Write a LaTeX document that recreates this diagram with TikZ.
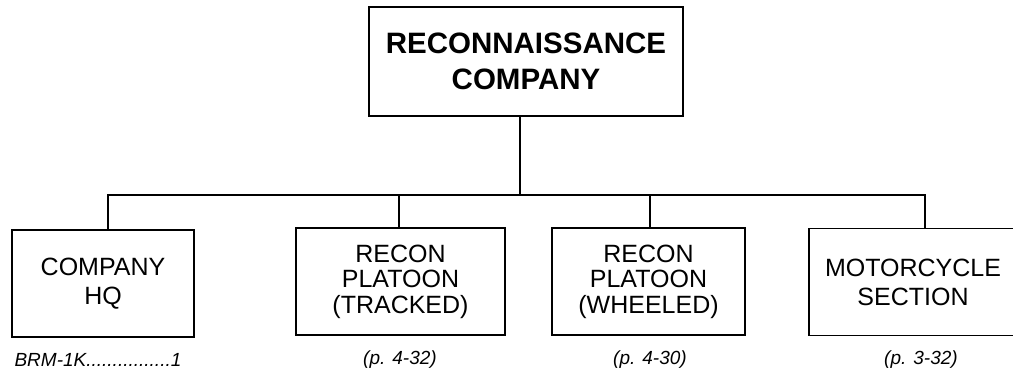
\documentclass[tikz,border=0pt]{standalone}
\usepackage{fontspec}
\setmainfont{Liberation Sans}
\usetikzlibrary{positioning}

\begin{document}
\begin{tikzpicture}[x=1pt, y=-1pt,
  unitbox/.style={draw, line width=1.6pt, align=center, inner sep=0pt,
    minimum height=107pt, font=\fontsize{25}{29}\selectfont},
  threeline/.style={font=\fontsize{25}{25.5}\selectfont},
  pageref/.style={font=\fontsize{19}{22}\selectfont\itshape},
  link/.style={line width=1.6pt}]
  \useasboundingbox (0,0) rectangle (1013,374);
  % capo
  \node[unitbox, minimum width=314pt, minimum height=109pt,
        font=\fontsize{29.5}{36}\selectfont\bfseries] (coy) at (526,61.5) {RECONNAISSANCE\\COMPANY};
  % sottounita
  \node[unitbox, minimum width=182pt] (hq) at (103,283.5) {COMPANY\\HQ};
  \node[unitbox, threeline, minimum width=209pt] (trk) at (400.5,281.5) {RECON\\PLATOON\\(TRACKED)};
  \node[unitbox, threeline, minimum width=193pt] (whl) at (648.5,281.5) {RECON\\PLATOON\\(WHEELED)};
  \node[unitbox, minimum width=208pt] (moto) at (913,282) {MOTORCYCLE\\SECTION};
  % riferimenti
  \node[pageref, anchor=west] (hqnote) at (11,360) {BRM-1K................1};
  \node[pageref] (trknote) at (400,360) {(p. 4-32)};
  \node[pageref] (whlnote) at (650,360) {(p. 4-30)};
  \node[pageref] (motonote) at (921,360) {(p. 3-32)};
  % linee
  \coordinate (bar) at (520,195);
  \draw[link] ([xshift=-6pt]coy.south) -- (bar);
  \draw[link] ([xshift=5pt]hq.north) |- (bar) -| ([xshift=12pt]moto.north);
  \foreach \n/\dx in {trk/-1.5, whl/1.5}{
    \draw[link] ([xshift=\dx pt]\n.north) -- ([xshift=\dx pt]\n.north |- bar);
  }
\end{tikzpicture}
\end{document}
